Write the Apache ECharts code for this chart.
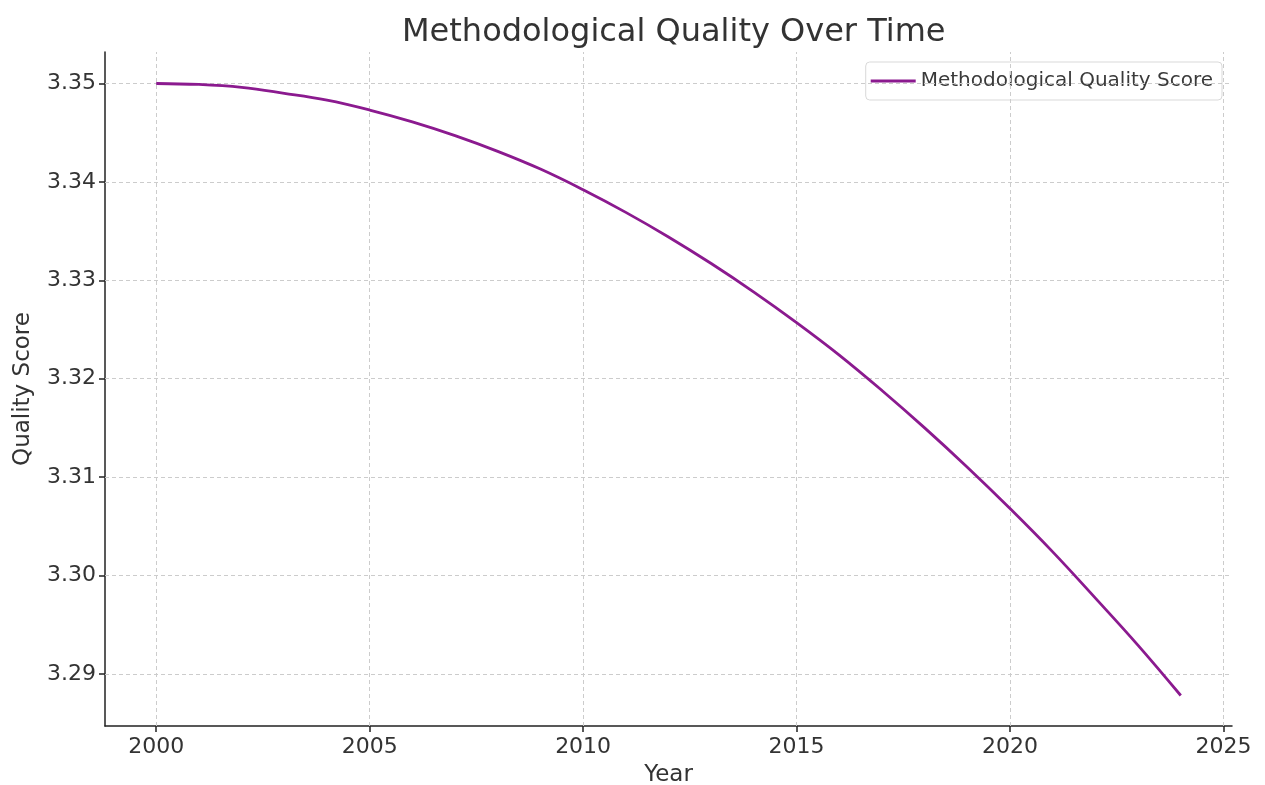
<!DOCTYPE html>
<html><head><meta charset="utf-8">
<script src="https://cdn.jsdelivr.net/npm/echarts@6/dist/echarts.min.js"></script>
<style>html,body{margin:0;padding:0;background:#fff}#c{width:1265px;height:785px}</style>
</head><body><div id="c"></div>
<script>
const years = [2000,2001,2002,2003,2004,2005,2006,2007,2008,2009,2010,2011,2012,2013,2014,2015,2016,2017,2018,2019,2020,2021,2022,2023,2024];
const scores = [3.3500,3.3499,3.3496,3.3490,3.3483,3.3473,3.3461,3.3447,3.3431,3.3413,3.3392,3.3369,3.3344,3.3317,3.3288,3.3257,3.3224,3.3188,3.3150,3.3110,3.3068,3.3024,3.2977,3.2929,3.2878];
const xTicks = [2000,2005,2010,2015,2020,2025];
const yTicks = [3.29,3.30,3.31,3.32,3.33,3.34,3.35];
const font = 'DejaVu Sans';
const chart = echarts.init(document.getElementById('c'));
const gridColor = '#cccccc';
chart.setOption({
  animation:false,
  title:{text:'Methodological Quality Over Time',left:397,top:12,textStyle:{fontFamily:font,fontSize:32,fontWeight:'normal',color:'#333'}},
  legend:{top:62,right:43,itemWidth:45,itemHeight:3,itemGap:14,
    backgroundColor:'#fff',borderColor:'#d9d9d9',borderWidth:1,borderRadius:4,padding:[9,9,9,5],
    textStyle:{fontFamily:font,fontSize:20,color:'#3a3a3a'},
    data:[{name:'Methodological Quality Score',icon:'rect'}]},
  grid:{left:105,right:33,top:52,bottom:59,containLabel:false,outerBoundsMode:'none'},
  xAxis:{type:'value',min:1998.8,max:2025.2,
    name:'Year',nameLocation:'middle',nameGap:38,nameTextStyle:{fontFamily:font,fontSize:23,color:'#333'},
    axisLine:{show:true,lineStyle:{color:'#222',width:1.5}},
    axisTick:{show:true,customValues:xTicks,length:6,inside:false,lineStyle:{color:'#222',width:1.5}},
    axisLabel:{customValues:xTicks,fontFamily:font,fontSize:22,color:'#333',margin:10,formatter:v=>String(v)},
    splitLine:{show:false}},
  yAxis:{type:'value',min:3.2847,max:3.3532,
    name:'Quality Score',nameLocation:'middle',nameGap:70,nameTextStyle:{fontFamily:font,fontSize:23,color:'#333'},
    axisLine:{show:true,lineStyle:{color:'#222',width:1.5}},
    axisTick:{show:true,customValues:yTicks,length:6,lineStyle:{color:'#222',width:1.5}},
    axisLabel:{customValues:yTicks,fontFamily:font,fontSize:22,color:'#333',margin:9,formatter:v=>v.toFixed(2)},
    splitLine:{show:false}},
  series:[
    {name:'Methodological Quality Score',type:'line',data:years.map((y,i)=>[y,scores[i]]),
     smooth:0.4,showSymbol:false,symbol:'none',lineStyle:{color:'#8B1A8F',width:2.8},itemStyle:{color:'#8B1A8F'},z:5,
     markLine:{silent:true,symbol:'none',label:{show:false},animation:false,
       lineStyle:{color:gridColor,type:[4,3],width:1},
       data:xTicks.map(v=>({xAxis:v})).concat(yTicks.map(v=>({yAxis:v})))}}
  ]
});
</script></body></html>
